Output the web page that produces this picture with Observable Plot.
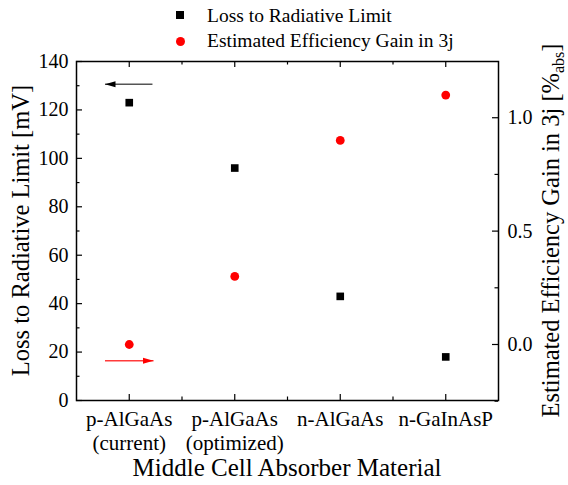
<!DOCTYPE html>
<html><head><meta charset="utf-8">
<script src="https://cdn.jsdelivr.net/npm/d3@7"></script>
<script src="https://cdn.jsdelivr.net/npm/@observablehq/plot@0.6"></script>
<style>
body{margin:0;background:#fff;font-family:"Liberation Serif","Times New Roman","DejaVu Serif",serif;}
#wrap{position:relative;width:568px;}
#legend{position:relative;height:50px;width:568px;}
.lg-text{position:absolute;left:207px;font-size:19.5px;line-height:1;white-space:nowrap;color:#000;}
.lg-sym{position:absolute;}
#chart svg{overflow:visible;display:block;}
</style></head><body>
<div id="wrap">
  <div id="legend">
    <div class="lg-sym" style="left:176px;top:11px;width:8px;height:8px;background:#000;"></div>
    <div class="lg-text" style="top:6px;">Loss to Radiative Limit</div>
    <div class="lg-sym" style="left:175.5px;top:37px;width:9px;height:9px;border-radius:50%;background:#ff0000;"></div>
    <div class="lg-text" style="top:31px;">Estimated Efficiency Gain in 3j</div>
  </div>
  <div id="chart"></div>
</div>
<script>
// ---- data ----
const categories = ["p-AlGaAs\n(current)", "p-AlGaAs\n(optimized)", "n-AlGaAs", "n-GaInAsP"];
const lossValues = [123, 96, 43, 18];          // mV, left axis
const gainValues = [0.0, 0.30, 0.90, 1.10];    // %abs, right axis
const leftTicks = [0, 20, 40, 60, 80, 100, 120, 140];
const leftMinor = [10, 30, 50, 70, 90, 110, 130];
const rightTicks = [0.0, 0.5, 1.0];
const rightMinor = [-0.25, 0.25, 0.75];
const leftDomain = [0, 140];
const rightDomain = [-0.247, 1.248];
const arrowLoss = [{x1: 0.22, x2: -0.23, y: 130.6}];   // left-axis units
const arrowGain = [{x1: -0.23, x2: 0.23, y: -0.072}];  // right-axis units

// ---- layout ----
const W = 568, H = 435;
const mL = 76, mR = 70, mT = 11, mB = 85;
const frameH = H - mT - mB, frameW = W - mL - mR;
const FONT = "'Liberation Serif', 'Times New Roman', 'DejaVu Serif', serif";

const toLeft = d3.scaleLinear(rightDomain, leftDomain);
const idx = categories.map((_, i) => i);
const xMinor = idx.slice(1).map(i => i - 0.5);

const headShape = {
  draw(ctx) { ctx.moveTo(0, 0); ctx.lineTo(-10.5, -3); ctx.lineTo(-10.5, 3); ctx.closePath(); }
};

const majorT = 6, minorT = 3.5;

const chart = Plot.plot({
  width: W, height: H,
  marginLeft: mL, marginRight: mR, marginTop: mT, marginBottom: mB,
  style: {fontFamily: FONT, fontSize: "20px", color: "#000", background: "#fff", overflow: "visible"},
  x: {domain: [-0.5, 3.5]},
  y: {domain: leftDomain},
  marks: [
    Plot.ruleX(idx, {x: d => d, insetTop: frameH - majorT, stroke: "#000", strokeWidth: 1.2}),
    Plot.ruleX(idx, {x: d => d, insetBottom: frameH - majorT, stroke: "#000", strokeWidth: 1.2}),
    Plot.ruleX(xMinor, {x: d => d, insetTop: frameH - minorT, stroke: "#000", strokeWidth: 1.2}),
    Plot.ruleX(xMinor, {x: d => d, insetBottom: frameH - minorT, stroke: "#000", strokeWidth: 1.2}),
    Plot.ruleY(leftTicks, {y: d => d, insetRight: frameW - majorT, stroke: "#000", strokeWidth: 1.2}),
    Plot.ruleY(leftMinor, {y: d => d, insetRight: frameW - minorT, stroke: "#000", strokeWidth: 1.2}),
    Plot.ruleY(rightTicks, {y: d => toLeft(d), insetLeft: frameW - majorT, stroke: "#000", strokeWidth: 1.2}),
    Plot.ruleY(rightMinor, {y: d => toLeft(d), insetLeft: frameW - minorT, stroke: "#000", strokeWidth: 1.2}),
    Plot.frame({stroke: "#000", strokeWidth: 1.5}),
    Plot.axisX(idx, {anchor: "bottom", tickSize: 0, tickPadding: 9, fontSize: 21, tickFormat: i => categories[i], lineHeight: 1.12, label: null}),
    Plot.axisY(leftTicks, {anchor: "left", tickSize: 0, tickPadding: 8, label: null}),
    Plot.axisY(rightTicks.map(v => toLeft(v)), {anchor: "right", tickSize: 0, tickPadding: 9, label: null,
      tickFormat: d => d3.format(".1f")(Math.round(toLeft.invert(d) * 100) / 100)}),
    Plot.link(arrowLoss, {x1: "x1", x2: "x2", y1: "y", y2: "y", stroke: "#555", strokeWidth: 1.4}),
    Plot.dot(arrowLoss, {x: "x2", y: "y", symbol: headShape, fill: "#000", stroke: null, rotate: 180}),
    Plot.link(arrowGain, {x1: "x1", x2: "x2", y1: d => toLeft(d.y), y2: d => toLeft(d.y), stroke: "#ff3b3b", strokeWidth: 1.4}),
    Plot.dot(arrowGain, {x: "x2", y: d => toLeft(d.y), symbol: headShape, fill: "#ff0000", stroke: null, rotate: 0}),
    Plot.dot(idx, {x: i => i, y: i => lossValues[i], symbol: "square", r: 4.3, fill: "#000", stroke: null}),
    Plot.dot(idx, {x: i => i, y: i => toLeft(gainValues[i]), symbol: "circle", r: 4.4, fill: "#ff0000", stroke: null})
  ]
});

const svg = d3.select(chart);
svg.append("text")
  .attr("transform", `translate(28.5,${mT + frameH / 2}) rotate(-90)`)
  .attr("text-anchor", "middle").attr("font-size", 24.5).attr("fill", "#000")
  .text("Loss to Radiative Limit [mV]");
const rt = svg.append("text")
  .attr("transform", `translate(558.5,${mT + frameH / 2}) rotate(-90)`)
  .attr("text-anchor", "middle").attr("font-size", 24.5).attr("fill", "#000");
rt.append("tspan").text("Estimated Efficiency Gain in 3j [%");
rt.append("tspan").attr("dy", 5).attr("font-size", 16).text("abs");
rt.append("tspan").attr("dy", -5).text("]");
svg.append("text")
  .attr("x", mL + frameW / 2).attr("y", 426)
  .attr("text-anchor", "middle").attr("font-size", 25).attr("fill", "#000")
  .text("Middle Cell Absorber Material");

document.getElementById("chart").appendChild(chart);
</script>
</body></html>
